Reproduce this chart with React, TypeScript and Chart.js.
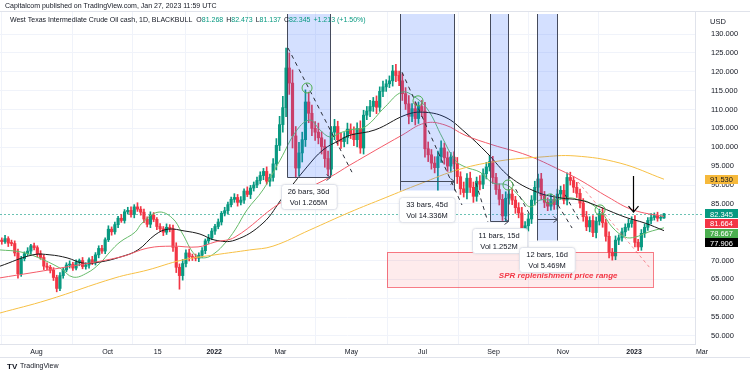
import React, { useEffect, useRef } from 'react';
import { Chart, registerables } from 'chart.js';

Chart.register(...registerables);

const FONT = "'Liberation Sans', Arial, Helvetica, sans-serif";
const UP = '#089981';
const DOWN = '#f23645';
const TEXT = '#131722';

// ---- Data: 2-day candles (WTI cash, Jul 2021 - Jan 27 2023) ----
const firstOpen = 75.4;
const closes = [
  75.0, 75.8, 74.6, 74.5, 72.0, 66.5, 70.5, 71.8, 72.5, 73.9,
  73.4, 71.8, 70.8, 68.5, 68.2, 67.4, 65.5, 62.6, 66.0, 67.5,
  68.8, 69.0, 68.0, 69.5, 70.0, 68.4, 68.8, 70.2, 69.4, 71.5,
  73.2, 72.5, 75.5, 78.3, 77.6, 79.5, 81.2, 80.6, 82.9, 83.3,
  82.2, 84.2, 83.6, 82.8, 81.0, 79.6, 82.0, 80.9, 79.0, 78.4,
  77.5, 78.8, 78.4, 73.5, 68.2, 66.0, 69.2, 72.0, 71.0, 70.8,
  70.6, 71.4, 72.6, 75.2, 76.0, 77.8, 79.0, 80.2, 82.5, 83.2,
  84.8, 86.2, 86.7, 85.4, 86.0, 88.4, 87.5, 89.2, 90.0, 91.2,
  92.5, 93.6, 91.0, 92.0, 95.6, 100.5, 106.0, 110.5, 121.0, 117.0,
  103.0, 94.5, 98.5, 102.0, 112.0, 109.0, 105.0, 104.0, 102.5, 100.2,
  97.0, 94.2, 104.0, 105.5, 102.0, 101.5, 102.6, 104.8, 103.6, 102.0,
  105.0, 99.8, 108.5, 109.6, 110.8, 112.2, 110.6, 114.8, 116.0, 116.8,
  117.6, 120.2, 119.0, 117.6, 114.2, 111.5, 108.2, 110.2, 107.6, 110.8,
  109.6, 99.6, 98.0, 95.8, 94.6, 97.5, 99.8, 97.2, 95.0, 97.4,
  95.6, 92.2, 89.0, 88.0, 91.8, 89.4, 87.0, 91.0, 90.2, 93.0,
  94.8, 96.2, 92.0, 88.8, 86.2, 81.8, 86.5, 87.6, 86.0, 84.0,
  82.6, 77.5, 79.2, 81.0, 86.0, 89.4, 91.6, 87.2, 85.4, 84.4,
  86.2, 84.8, 87.6, 88.6, 86.0, 92.0, 91.2, 89.4, 87.8, 85.2,
  81.6, 78.9, 80.6, 77.4, 80.4, 82.4, 80.0, 76.4, 72.2, 71.2,
  75.4, 76.0, 77.6, 78.8, 79.8, 80.6, 74.8, 73.6, 77.2, 78.8,
  80.6, 81.4, 81.9, 81.2, 81.268, 82.345,
];
const upperWicks = [
  0.6, 0.9, 0.5, 0.8, 0.7, 1.0, 0.6, 0.5, 0.9, 0.4,
  0.7, 0.5, 0.8, 0.6, 0.9, 0.5, 0.7, 0.6, 0.8, 0.5,
  0.6, 0.9, 0.5, 0.7, 0.4, 0.8, 0.6, 0.5, 0.9, 0.6,
  0.7, 0.8, 0.5, 0.9, 0.6, 0.7, 0.5, 1.0, 0.6, 0.8,
  0.9, 0.6, 1.1, 0.7, 0.8, 0.6, 0.9, 0.7, 0.5, 0.8,
  0.6, 0.9, 0.7, 1.0, 1.2, 0.9, 1.1, 0.8, 1.0, 0.7,
  0.9, 0.6, 0.8, 0.5, 0.9, 0.7, 0.6, 0.8, 0.5, 0.9,
  0.7, 0.6, 1.0, 0.8, 0.9, 0.6, 1.1, 0.7, 0.8, 0.9,
  1.0, 0.8, 1.2, 0.9, 1.4, 1.8, 2.2, 3.0, 5.3, 4.0,
  3.5, 2.5, 2.8, 2.0, 3.2, 2.6, 2.2, 1.8, 2.4, 1.6,
  1.8, 2.0, 1.5, 1.9, 1.4, 1.7, 1.3, 1.6, 1.4, 1.8,
  1.5, 2.0, 1.3, 1.2, 1.6, 1.0, 1.4, 1.2, 1.5, 1.1,
  1.3, 1.5, 1.8, 1.2, 1.9, 1.6, 2.2, 1.4, 1.7, 1.2,
  1.6, 2.3, 1.8, 1.4, 1.7, 1.5, 1.9, 1.3, 1.6, 1.2,
  1.4, 1.7, 1.3, 1.8, 1.2, 1.6, 1.4, 1.1, 1.5, 1.3,
  1.2, 1.6, 1.4, 1.1, 1.5, 1.3, 1.7, 1.2, 1.4, 1.0,
  1.3, 1.5, 1.1, 1.4, 1.2, 1.6, 1.3, 1.5, 1.1, 1.2,
  1.4, 1.0, 1.3, 1.1, 1.5, 1.2, 1.4, 1.0, 1.3, 1.1,
  1.2, 1.4, 1.0, 1.3, 1.1, 1.2, 1.5, 0.9, 1.2, 1.0,
  1.1, 0.8, 1.0, 0.9, 1.2, 1.0, 1.3, 0.8, 1.0, 0.9,
  0.8, 1.0, 0.7, 0.9, 0.6, 0.128,
];
const lowerWicks = [
  0.7, 0.5, 0.9, 0.6, 0.8, 1.2, 0.7, 0.6, 0.5, 0.8,
  0.6, 0.8, 0.5, 0.9, 0.6, 0.7, 0.8, 0.9, 0.6, 0.7,
  0.5, 0.8, 0.6, 0.5, 0.9, 0.6, 0.7, 0.8, 0.5, 0.6,
  0.8, 0.6, 0.7, 0.5, 0.9, 0.6, 0.8, 0.5, 0.7, 0.6,
  0.7, 0.9, 0.6, 0.8, 1.0, 0.7, 0.9, 0.6, 0.8, 0.7,
  0.9, 0.6, 0.8, 1.1, 1.4, 3.6, 1.2, 0.9, 1.1, 0.8,
  0.7, 0.9, 0.6, 0.8, 0.7, 0.5, 0.9, 0.6, 0.8, 0.7,
  0.9, 0.6, 0.8, 1.0, 0.7, 0.9, 0.6, 1.1, 0.8, 0.7,
  0.9, 1.1, 0.8, 1.3, 1.0, 1.6, 1.4, 2.0, 2.4, 3.0,
  3.2, 2.6, 2.0, 2.4, 1.8, 2.5, 1.9, 2.2, 1.6, 2.0,
  2.3, 1.8, 1.6, 2.0, 1.5, 1.8, 1.4, 1.7, 1.3, 1.6,
  1.9, 1.4, 1.6, 1.2, 1.5, 1.3, 1.7, 1.1, 1.4, 1.2,
  1.0, 1.4, 1.6, 1.3, 1.8, 1.5, 2.0, 1.4, 1.7, 1.3,
  1.5, 2.2, 1.8, 1.6, 1.4, 6.0, 1.5, 1.7, 1.4, 1.6,
  1.3, 1.8, 1.5, 1.2, 1.7, 1.4, 1.6, 1.3, 1.5, 1.2,
  1.4, 1.1, 1.6, 1.3, 1.5, 1.2, 1.4, 1.6, 1.2, 1.5,
  1.3, 1.2, 1.1, 1.4, 1.2, 1.3, 1.5, 1.1, 1.4, 1.2,
  1.1, 1.3, 1.2, 1.4, 1.0, 1.3, 1.2, 1.4, 1.1, 1.3,
  1.2, 1.0, 1.3, 1.1, 1.4, 1.0, 1.2, 1.3, 1.5, 1.1,
  1.0, 1.2, 0.9, 1.1, 0.8, 1.0, 1.2, 1.0, 0.9, 1.1,
  0.8, 0.9, 0.7, 0.8, 0.6, 0.131,
];
const changeText = '+1.213 (+1.50%)';

// ---- Moving averages: [bar index, price] ----
const sma20: number[][] = [
  [-0.6, 72.8], [11.8, 72.3], [22.3, 70.9], [36.5, 68.0], [44.6, 65.6], [53.3, 66.7], [61.3, 69.3],
  [67.5, 72.3], [73.7, 74.9], [83, 77.5], [87.3, 79.9], [97.2, 82.8], [105.9, 81.3], [112.1, 77.3],
  [120.1, 71.5], [126.3, 70.7], [132.5, 72.0], [138.7, 74.6], [144.9, 78.1], [152.3, 83.4],
  [162.2, 88.7], [172.8, 96.6], [183.3, 104.6], [191.3, 107.2], [197.5, 104.6], [203.7, 102.7],
  [209.9, 103.8], [216.1, 104.6], [225.4, 105.4], [237.8, 110.7], [248.3, 114.6], [256.3, 113.3],
  [264.4, 109.9], [273.1, 102.7], [281.1, 96.6], [287.3, 94.8], [296.6, 93.4], [304.6, 90.5],
  [313.3, 90.0], [321.4, 86.8], [327.6, 84.2], [333.7, 86.0], [341.8, 86.0], [352.3, 86.6],
  [358.5, 86.0], [363.5, 85.5], [372.1, 82.6], [378.3, 78.9], [386.4, 76.2], [392.6, 76.2],
  [400.6, 77.5], [410.5, 78.667],
];
const sma50: number[][] = [
  [-0.6, 68.5], [19.8, 71.5], [30.3, 71.5], [40.9, 70.7], [50.8, 69.3], [61.3, 69.6], [73.7, 70.9],
  [84.8, 72.8], [95.4, 76.8], [103.4, 78.3], [113.9, 77.8], [123.2, 77.0], [132.5, 75.4],
  [144.9, 75.4], [162.2, 79.9], [174.6, 86.8], [189.5, 94.8], [199.4, 99.3], [209.9, 101.9],
  [216.1, 103.2], [231.6, 104.6], [250.2, 108.5], [260.7, 109.3], [274.9, 108.0], [287.3, 104.0],
  [300.9, 98.5], [315.2, 92.1], [331.9, 88.1], [346.1, 86.6], [358.5, 86.0], [367.8, 84.7],
  [386.4, 81.5], [398.8, 79.9], [410.5, 77.906],
];
const sma100: number[][] = [
  [-0.6, 65.4], [36.5, 68.0], [73.7, 70.9], [91, 73.3], [105.9, 73.8], [122, 73.6], [132.5, 74.9],
  [144.9, 76.2], [172.8, 85.2], [203.7, 92.1], [216.1, 95.3], [248.3, 103.2], [262.5, 106.4],
  [274.9, 105.9], [287.3, 103.2], [304.6, 100.6], [325.7, 97.9], [346.1, 94.0], [358.5, 91.3],
  [375.9, 86.8], [391.3, 83.4], [410.5, 81.664],
];
const sma200: number[][] = [
  [-0.6, 56.1], [28.5, 59.5], [70.6, 65.4], [91, 67.5], [112, 70.1], [132.5, 71.5], [154, 72.8],
  [168.4, 73.8], [191.3, 78.1], [216, 82.8], [237.8, 86.6], [259.4, 90.3], [284.2, 94.2],
  [309, 96.4], [333.7, 97.4], [355.4, 97.7], [383.3, 95.8], [410.5, 91.53],
];

// ---- Axes ----
const xTickIndex = [22, 66, 97, 132, 173, 217, 261, 305, 348, 392, 434];
const xTickLabels = ['Aug', 'Oct', '15', '2022', 'Mar', 'May', 'Jul', 'Sep', 'Nov', '2023', 'Mar'];
const priceTicks = [50, 55, 60, 65, 70, 75, 80, 85, 90, 95, 100, 105, 110, 115, 120, 125, 130];

// ---- Drawings (bar index / price) ----
const rangeBoxes = [
  { from: 177.1, to: 203.7, bottom: 92.1, arrowAt: 92.1, lines: ['26 bars, 36d', 'Vol 1.265M'] },
  { from: 247.0, to: 280.5, bottom: 88.7, arrowAt: 91.1, lines: ['33 bars, 45d', 'Vol 14.336M'] },
  { from: 302.8, to: 314.0, bottom: 80.5, arrowAt: 80.5, lines: ['11 bars, 15d', 'Vol 1.252M'] },
  { from: 331.9, to: 344.3, bottom: 75.4, arrowAt: 81.0, lines: ['12 bars, 16d', 'Vol 5.469M'] },
];
const dashedTrends = [
  [177.7, 126.3, 217.3, 93.4],
  [248.3, 119.9, 285.4, 84.7],
  [294.1, 90.5, 301.5, 80.2],
  [313.9, 92.6, 327.6, 82.0],
  [344.9, 84.7, 353.6, 78.6],
  [349.3, 87.4, 358.5, 80.2],
];
const redDashed = [[357.3, 90.8, 401.9, 68.0]];
const circles = [[189.5, 115.7], [258.2, 112.3], [313.9, 90.0], [339.9, 86.3], [370.9, 83.4]];
const downArrow = { at: 391.3, from: 92.4, to: 82.8 };
const sprZone = { from: 239, to: 403.7, top: 72.2, bottom: 63.0, labelAt: 345, labelPrice: 66.0, text: 'SPR replenishment price range' };

export default function App() {
  const ref = useRef<HTMLCanvasElement | null>(null);

  useEffect(() => {
    document.body.style.margin = '0';
    const canvas = ref.current;
    if (!canvas) return;

    const opens = closes.map((c, i) => (i === 0 ? firstOpen : closes[i - 1]));
    const highs = closes.map((c, i) => Math.max(opens[i], c) + upperWicks[i]);
    const lows = closes.map((c, i) => Math.min(opens[i], c) - lowerWicks[i]);
    const xs = closes.map((_, i) => 2 * i + 0.5);
    const colors = closes.map((c, i) => (c >= opens[i] ? UP : DOWN));
    const last = closes.length - 1;

    const lineDs = (data: number[][], color: string) => ({
      type: 'line' as const,
      data: data.map(([x, y]) => ({ x, y })),
      borderColor: color,
      borderWidth: 1,
      pointRadius: 0,
      tension: 0.4,
      order: 0,
      fill: false,
    });

    const tags = [
      { v: sma200[sma200.length - 1][1], bg: '#f6b93b', fg: TEXT },
      { v: closes[last], bg: UP, fg: '#ffffff' },
      { v: sma100[sma100.length - 1][1], bg: DOWN, fg: '#ffffff' },
      { v: sma20[sma20.length - 1][1], bg: '#4caf50', fg: '#ffffff' },
      { v: sma50[sma50.length - 1][1], bg: '#000000', fg: '#ffffff' },
    ];

    const overlay = {
      id: 'overlay',
      beforeDatasetsDraw(chart: any) {
        const { ctx, chartArea: a, scales } = chart;
        const y = scales.y;
        ctx.save();
        const yp = Math.round(y.getPixelForValue(closes[last])) + 0.5;
        ctx.strokeStyle = 'rgba(8,153,129,0.6)';
        ctx.lineWidth = 1;
        ctx.setLineDash([2, 2]);
        ctx.beginPath();
        ctx.moveTo(a.left, yp);
        ctx.lineTo(a.right + 8, yp);
        ctx.stroke();
        ctx.restore();
      },
      afterDatasetsDraw(chart: any) {
        const { ctx, chartArea: a, scales } = chart;
        const x = scales.x;
        const y = scales.y;
        const px = (v: number) => x.getPixelForValue(v);
        const py = (v: number) => y.getPixelForValue(v);
        ctx.save();
        ctx.beginPath();
        ctx.rect(a.left, a.top, a.right - a.left, a.bottom - a.top);
        ctx.clip();

        // SPR zone
        {
          const x1 = px(sprZone.from), x2 = px(sprZone.to);
          const y1 = py(sprZone.top), y2 = py(sprZone.bottom);
          ctx.fillStyle = 'rgba(242,54,69,0.10)';
          ctx.fillRect(x1, y1, x2 - x1, y2 - y1);
          ctx.strokeStyle = 'rgba(242,54,69,0.65)';
          ctx.lineWidth = 1;
          ctx.strokeRect(Math.round(x1) + 0.5, Math.round(y1) + 0.5, Math.round(x2 - x1), Math.round(y2 - y1));
          ctx.fillStyle = '#f23645';
          ctx.font = `italic bold 8px ${FONT}`;
          ctx.textAlign = 'center';
          ctx.textBaseline = 'middle';
          ctx.fillText(sprZone.text, px(sprZone.labelAt), py(sprZone.labelPrice));
        }

        // range boxes
        rangeBoxes.forEach((b) => {
          const x1 = Math.round(px(b.from)) + 0.5;
          const x2 = Math.round(px(b.to)) + 0.5;
          const yt = a.top + 2;
          const yb = Math.round(py(b.bottom)) + 0.5;
          ctx.fillStyle = 'rgba(41,98,255,0.2)';
          ctx.fillRect(x1, yt, x2 - x1, yb - yt);
          ctx.strokeStyle = '#454b5c';
          ctx.lineWidth = 1;
          ctx.setLineDash([]);
          ctx.beginPath();
          ctx.moveTo(x1, yt); ctx.lineTo(x1, yb);
          ctx.moveTo(x2, yt); ctx.lineTo(x2, yb);
          const ya = Math.round(py(b.arrowAt)) + 0.5;
          ctx.moveTo(x1, ya); ctx.lineTo(x2, ya);
          ctx.moveTo(x2 - 4, ya - 3); ctx.lineTo(x2, ya); ctx.lineTo(x2 - 4, ya + 3);
          ctx.stroke();
        });

        // dashed trend lines
        ctx.setLineDash([4, 4]);
        ctx.strokeStyle = '#2a2e39';
        ctx.lineWidth = 1;
        dashedTrends.forEach(([i1, p1, i2, p2]) => {
          ctx.beginPath();
          ctx.moveTo(px(i1), py(p1));
          ctx.lineTo(px(i2), py(p2));
          ctx.stroke();
        });
        ctx.strokeStyle = 'rgba(242,54,69,0.55)';
        ctx.setLineDash([3, 3]);
        redDashed.forEach(([i1, p1, i2, p2]) => {
          ctx.beginPath();
          ctx.moveTo(px(i1), py(p1));
          ctx.lineTo(px(i2), py(p2));
          ctx.stroke();
        });
        ctx.setLineDash([]);

        // circles
        ctx.strokeStyle = '#4caf50';
        circles.forEach(([i, p]) => {
          ctx.beginPath();
          ctx.arc(px(i), py(p), 5, 0, Math.PI * 2);
          ctx.stroke();
        });

        // down arrow
        {
          const xa = Math.round(px(downArrow.at)) + 0.5;
          const y1 = py(downArrow.from), y2 = py(downArrow.to);
          ctx.strokeStyle = '#000000';
          ctx.lineWidth = 1.2;
          ctx.beginPath();
          ctx.moveTo(xa, y1); ctx.lineTo(xa, y2);
          ctx.moveTo(xa - 5, y2 - 6); ctx.lineTo(xa, y2); ctx.lineTo(xa + 5, y2 - 6);
          ctx.stroke();
        }

        // range labels
        ctx.font = `7.5px ${FONT}`;
        ctx.textAlign = 'center';
        ctx.textBaseline = 'middle';
        rangeBoxes.forEach((b) => {
          const cx = (px(b.from) + px(b.to)) / 2;
          const top = py(b.bottom) + 7;
          const w = Math.max(...b.lines.map((t) => ctx.measureText(t).width)) + 14;
          const h = 25;
          const lx = Math.round(cx - w / 2) + 0.5;
          const ly = Math.round(top) + 0.5;
          ctx.shadowColor = 'rgba(0,0,0,0.12)';
          ctx.shadowBlur = 3;
          ctx.fillStyle = '#ffffff';
          ctx.beginPath();
          (ctx as any).roundRect(lx, ly, w, h, 3);
          ctx.fill();
          ctx.shadowColor = 'transparent';
          ctx.shadowBlur = 0;
          ctx.strokeStyle = '#e0e3eb';
          ctx.lineWidth = 1;
          ctx.stroke();
          ctx.fillStyle = TEXT;
          ctx.fillText(b.lines[0], cx, ly + 7);
          ctx.fillText(b.lines[1], cx, ly + 18);
        });
        ctx.restore();
      },
      afterDraw(chart: any) {
        const { ctx, chartArea: a, scales } = chart;
        const y = scales.y;
        ctx.save();
        // frame lines
        ctx.strokeStyle = '#e0e3eb';
        ctx.lineWidth = 1;
        ctx.beginPath();
        ctx.moveTo(0, Math.round(a.top) - 0.5); ctx.lineTo(750, Math.round(a.top) - 0.5);
        ctx.moveTo(0, 357.5); ctx.lineTo(750, 357.5);
        ctx.stroke();

        // header
        ctx.textBaseline = 'middle';
        ctx.textAlign = 'left';
        ctx.font = `7px ${FONT}`;
        ctx.fillStyle = TEXT;
        ctx.fillText('Capitalcom published on TradingView.com, Jan 27, 2023 11:59 UTC', 5, 6.5);

        ctx.font = `7px ${FONT}`;
        let cx = 10;
        const put = (t: string, color: string, gap = 0) => {
          ctx.fillStyle = color;
          ctx.fillText(t, cx, 20.5);
          cx += ctx.measureText(t).width + gap;
        };
        put('West Texas Intermediate Crude Oil cash, 1D, BLACKBULL', TEXT, 4);
        const o = opens[last], h = highs[last], l = lows[last], c = closes[last];
        put('O', TEXT); put(o.toFixed(3), UP, 3);
        put('H', TEXT); put(h.toFixed(3), UP, 3);
        put('L', TEXT); put(l.toFixed(3), UP, 3);
        put('C', TEXT); put(c.toFixed(3), UP, 3);
        put(changeText, UP);

        // USD label
        ctx.font = `7.5px ${FONT}`;
        ctx.fillStyle = TEXT;
        ctx.fillText('USD', 710, 22);

        // price tags
        const items = tags.map((t) => ({ ...t, yy: y.getPixelForValue(t.v) }));
        const sorted = [...items].sort((p, q) => p.yy - q.yy);
        let prev = -Infinity;
        sorted.forEach((t) => {
          if (t.yy < prev + 9.6) t.yy = prev + 9.6;
          prev = t.yy;
        });
        sorted.forEach((t) => {
          ctx.fillStyle = t.bg;
          ctx.fillRect(705, Math.round(t.yy - 4.5), 33, 9);
          ctx.fillStyle = t.fg;
          ctx.fillText(t.v.toFixed(3), 710, Math.round(t.yy) + 0.5);
        });

        // TradingView logo
        ctx.fillStyle = TEXT;
        ctx.font = `bold 8px ${FONT}`;
        ctx.fillText('TV', 7, 366.5);
        ctx.font = `7px ${FONT}`;
        ctx.fillText('TradingView', 20, 366.5);
        ctx.restore();
      },
    };

    const chart = new Chart(canvas, {
      type: 'bar',
      data: {
        datasets: [
          lineDs(sma200, '#f7c045'),
          lineDs(sma100, '#f45b69'),
          lineDs(sma50, '#1a1a1a'),
          lineDs(sma20, '#66bb6a'),
          {
            type: 'bar',
            data: xs.map((x, i) => ({ x, y: [lows[i], highs[i]] })),
            backgroundColor: colors,
            barThickness: 1,
            grouped: false,
            order: 2,
          } as any,
          {
            type: 'bar',
            data: xs.map((x, i) => ({ x, y: [opens[i], closes[i]] })),
            backgroundColor: colors,
            barThickness: 2.5,
            minBarLength: 1,
            grouped: false,
            order: 1,
          } as any,
        ],
      },
      options: {
        animation: false,
        responsive: false,
        devicePixelRatio: 1,
        layout: { padding: { top: 12, bottom: 19, left: 0, right: 0 } },
        plugins: { legend: { display: false }, tooltip: { enabled: false } },
        scales: {
          x: {
            type: 'linear',
            offset: false,
            min: -0.62,
            max: 429.7,
            afterBuildTicks: (s: any) => {
              s.ticks = xTickIndex.map((v) => ({ value: v }));
            },
            afterFit: (s: any) => {
              s.height = 13;
              s.paddingLeft = 0;
              s.paddingRight = 0;
            },
            ticks: {
              autoSkip: false,
              maxRotation: 0,
              padding: 4,
              color: TEXT,
              font: (c: any) => ({
                family: FONT,
                size: 7,
                weight: c.tick && (c.tick.value === 132 || c.tick.value === 392) ? 'bold' : 'normal',
              }),
              callback: (v: any) => {
                const i = xTickIndex.indexOf(Number(v));
                return i >= 0 ? xTickLabels[i] : '';
              },
            },
            grid: {
              drawTicks: false,
              color: (c: any) => (c.tick && c.tick.value > 429 ? 'rgba(0,0,0,0)' : '#f0f3fa'),
            },
            border: { display: true, color: '#e0e3eb' },
          },
          y: {
            type: 'linear',
            position: 'right',
            min: 47.88,
            max: 135.83,
            afterBuildTicks: (s: any) => {
              s.ticks = priceTicks.map((v) => ({ value: v }));
            },
            afterFit: (s: any) => {
              s.width = 55;
              s.paddingTop = 0;
              s.paddingBottom = 0;
            },
            ticks: {
              padding: 16,
              color: TEXT,
              font: { family: FONT, size: 7.5 },
              callback: (v: any) => Number(v).toFixed(3),
            },
            grid: { drawTicks: false, color: '#f0f3fa' },
            border: { display: true, color: '#e0e3eb' },
          },
        },
      } as any,
      plugins: [overlay],
    });

    return () => chart.destroy();
  }, []);

  return (
    <div style={{ width: 750, height: 376, background: '#ffffff' }}>
      <canvas ref={ref} width={750} height={376} style={{ display: 'block' }} />
    </div>
  );
}
